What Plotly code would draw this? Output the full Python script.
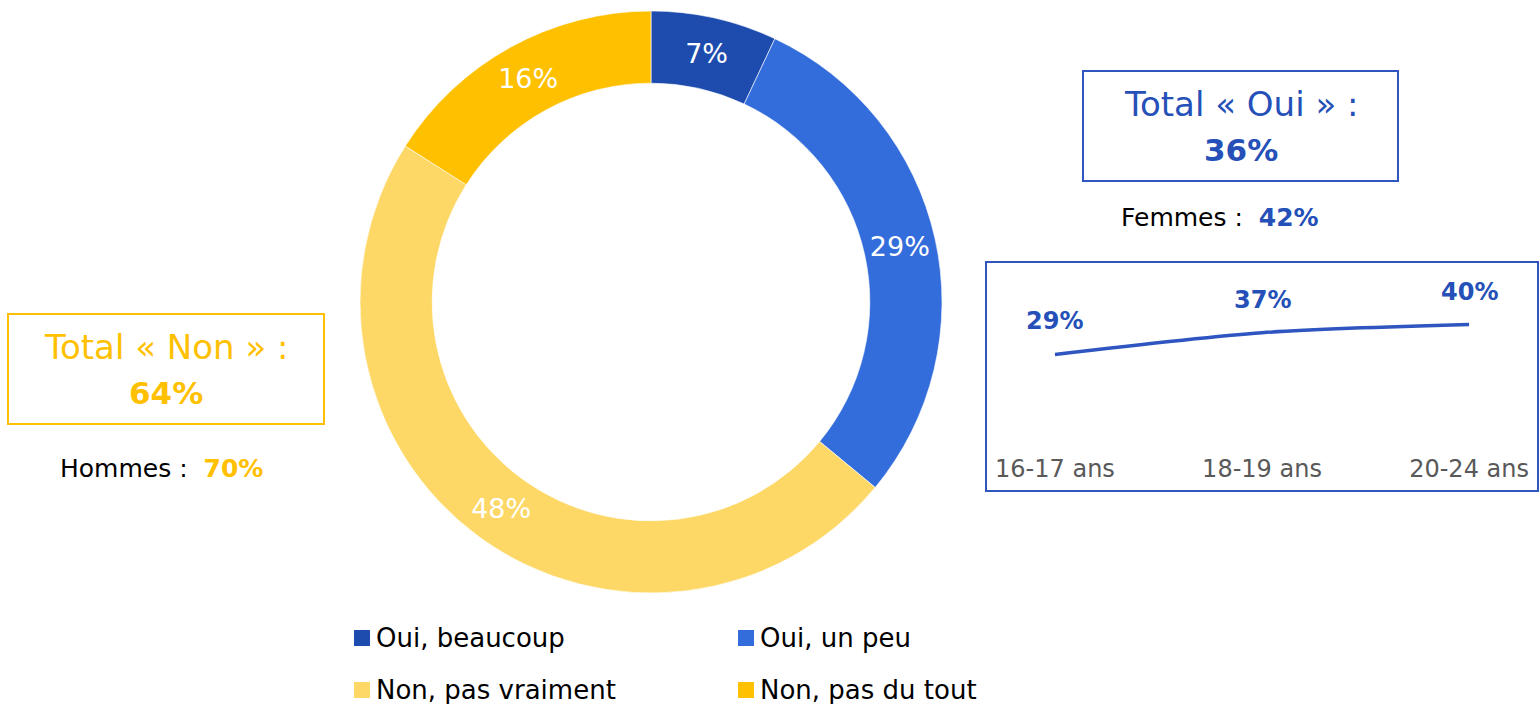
import plotly.graph_objects as go

# ---- data ----
categories = ["Oui, beaucoup", "Oui, un peu", "Non, pas vraiment", "Non, pas du tout"]
values = [7, 29, 48, 16]
colors = ["#1E4CAE", "#336CDB", "#FDD867", "#FFC000"]

age_groups = ["16-17 ans", "18-19 ans", "20-24 ans"]
age_values = [29, 37, 40]

total_oui = 36
total_non = 64
femmes_oui = 42
hommes_non = 70

W, H = 1540, 704
FONT = "DejaVu Sans"
BLUE = "#2450B8"
GOLD = "#FFC000"


def px(x):
    return x / W


def py(y):
    return 1 - y / H


fig = go.Figure()

fig.add_trace(go.Pie(
    labels=categories,
    values=values,
    marker=dict(colors=colors, line=dict(color="white", width=0.6)),
    hole=0.752,
    sort=False,
    direction="clockwise",
    rotation=0,
    texttemplate="%{value}%",
    textposition="inside",
    insidetextorientation="horizontal",
    textfont=dict(family=FONT, size=27, color="white"),
    domain=dict(x=[px(360), px(942)], y=[py(593), py(11)]),
    showlegend=False,
    hoverinfo="label+value",
))

fig.add_trace(go.Scatter(
    x=age_groups,
    y=age_values,
    mode="lines",
    line=dict(color="#2E55C0", width=3.5, shape="spline", smoothing=0.8),
    xaxis="x", yaxis="y",
    showlegend=False,
))

for g, v in zip(age_groups, age_values):
    fig.add_annotation(x=g, y=v, xref="x", yref="y", text=f"<b>{v}%</b>",
                       showarrow=False, yshift=33, xanchor="center",
                       font=dict(family=FONT, size=24, color=BLUE))

fig.update_layout(
    width=W, height=H,
    margin=dict(l=0, r=0, t=0, b=0),
    paper_bgcolor="white", plot_bgcolor="rgba(0,0,0,0)",
    xaxis=dict(domain=[px(986), px(1538)], range=[-0.333, 2.333],
               showgrid=False, zeroline=False, showline=False, ticks="",
               tickfont=dict(family=FONT, size=24, color="#595959"),
               fixedrange=True),
    yaxis=dict(domain=[py(452), py(262)], range=[-7.0, 63.1], visible=False,
               fixedrange=True),
)

shapes = [
    # line-chart frame
    dict(type="rect", xref="paper", yref="paper", x0=px(986), x1=px(1538),
         y0=py(491), y1=py(262), line=dict(color="#2E55C0", width=2)),
    # total oui box
    dict(type="rect", xref="paper", yref="paper", x0=px(1083), x1=px(1398),
         y0=py(181), y1=py(71), line=dict(color="#2E55C0", width=2)),
    # total non box
    dict(type="rect", xref="paper", yref="paper", x0=px(8), x1=px(324),
         y0=py(424), y1=py(314), line=dict(color=GOLD, width=2)),
]

# legend (2 x 2)
leg_pos = [(354, 638), (738, 638), (354, 690), (738, 690)]
for (lx, ly), c, name in zip(leg_pos, colors, categories):
    shapes.append(dict(type="rect", xref="paper", yref="paper",
                       x0=px(lx), x1=px(lx + 16), y0=py(ly + 8), y1=py(ly - 8),
                       fillcolor=c, line=dict(width=0)))
    fig.add_annotation(x=px(lx + 20), y=py(ly), xref="paper", yref="paper",
                       xanchor="left", yanchor="middle", showarrow=False,
                       text=name, font=dict(family=FONT, size=26, color="black"))

fig.update_layout(shapes=shapes)


# boxes text
def centered(x, y, text, size, color):
    fig.add_annotation(x=px(x), y=py(y), xref="paper", yref="paper", showarrow=False,
                       xanchor="center", yanchor="middle",
                       text=text, font=dict(family=FONT, size=size, color=color))


centered(1241, 104, "Total « Oui » :", 34, BLUE)
centered(1241, 150, f"<b>{total_oui}%</b>", 31, BLUE)
centered(1220, 218, f"Femmes :  <b><span style='color:{BLUE}'>{femmes_oui}%</span></b>", 25, "black")

centered(166, 347, "Total « Non » :", 34, GOLD)
centered(166, 393, f"<b>{total_non}%</b>", 31, GOLD)
centered(161, 468, f"Hommes :  <b><span style='color:{GOLD}'>{hommes_non}%</span></b>", 25, "black")

fig.write_html("out.html", config={"displayModeBar": False},
               post_script="document.body.style.margin='0';")
